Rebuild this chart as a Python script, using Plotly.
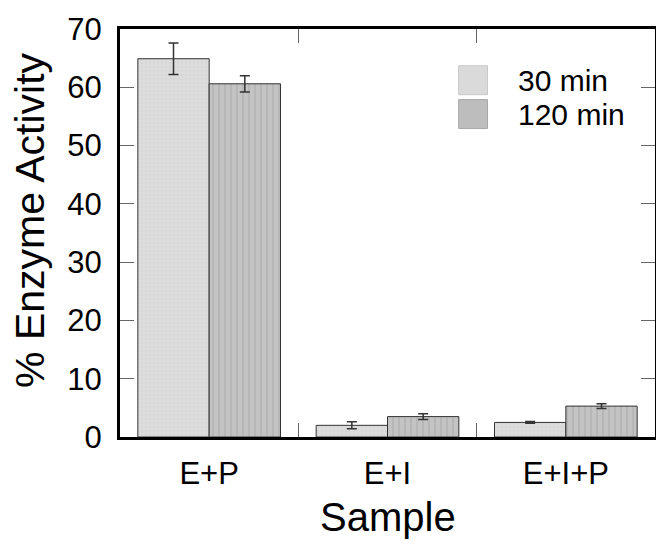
import plotly.graph_objects as go

# 樣本類別與數據
samples = ['E+P', 'E+I', 'E+I+P']
series_names = ['30 min', '120 min']
activity_30 = [64.9, 2.0, 2.5]
err_30 = [2.7, 0.6, 0.15]
activity_120 = [60.6, 3.5, 5.3]
err_120 = [1.4, 0.5, 0.4]

font = 'Liberation Sans, Arial, sans-serif'
light = '#dadada'
mid = '#bdbdbd'

fig = go.Figure()

fig.add_trace(go.Bar(
    x=samples, y=activity_30, name=series_names[0],
    marker=dict(color=light, line=dict(color='#333333', width=1),
                pattern=dict(shape='.', fgcolor='#d0d0d0', bgcolor='#dcdcdc', size=4, solidity=0.2)),
    error_y=dict(type='data', array=err_30, color='#333333', thickness=1.5, width=5),
))
fig.add_trace(go.Bar(
    x=samples, y=activity_120, name=series_names[1],
    marker=dict(color=mid, line=dict(color='#333333', width=1),
                pattern=dict(shape='|', fgcolor='#aaaaaa', bgcolor='#c4c4c4', size=6, solidity=0.35)),
    error_y=dict(type='data', array=err_120, color='#333333', thickness=1.5, width=5),
))

# 圖例：大方塊 + 文字
swatches = [(0.910, 0.839, light, '#c8c8c8'), (0.827, 0.756, mid, '#a8a8a8')]
for (y1, y0, fill, edge), name in zip(swatches, series_names):
    fig.add_shape(type='rect', xref='paper', yref='paper', x0=0.633, x1=0.687, y0=y0, y1=y1,
                  fillcolor=fill, line=dict(color=edge, width=1))
    fig.add_annotation(xref='paper', yref='paper', x=0.74, y=(y0 + y1) / 2, text=name,
                       showarrow=False, xanchor='left', yanchor='middle', font=dict(size=30))

# 軸標題
fig.add_annotation(xref='paper', yref='paper', x=-0.168, y=0.53, text='% Enzyme Activity',
                   textangle=-90, showarrow=False, xanchor='center', yanchor='middle',
                   font=dict(size=41))
fig.add_annotation(xref='paper', yref='paper', x=0.5, y=-0.197, text='Sample',
                   showarrow=False, xanchor='center', yanchor='middle', font=dict(size=40))

# 頁面 body 有 8px 邊距，所以圖寬高與邊界往回扣
fig.update_layout(
    width=656, height=539,
    margin=dict(l=112, r=9, t=21, b=110),
    paper_bgcolor='white', plot_bgcolor='white',
    font=dict(family=font, color='black'),
    barmode='group', bargap=0.2, bargroupgap=0,
    showlegend=False,
    xaxis=dict(
        range=[-0.5, 2.5], tickson='boundaries', ticks='inside', ticklen=14,
        tickcolor='#666666', tickwidth=1, tickfont=dict(size=31), ticklabelstandoff=7,
        showline=True, linecolor='black', linewidth=3, mirror='ticks',
        showgrid=False, zeroline=False, automargin=False,
    ),
    yaxis=dict(
        range=[0, 70], dtick=10, ticks='inside', ticklen=14,
        tickcolor='#666666', tickwidth=1, tickfont=dict(size=31), ticklabelstandoff=9,
        showline=True, linecolor='black', linewidth=3, mirror='ticks',
        showgrid=False, zeroline=False, automargin=False,
    ),
)

fig.write_html('out.html')
